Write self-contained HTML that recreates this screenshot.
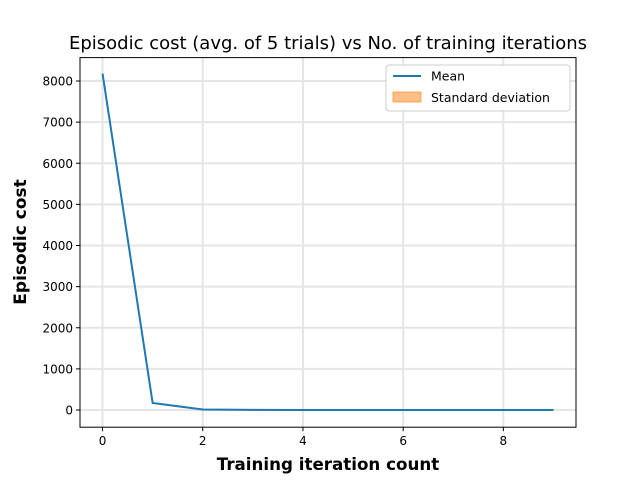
<!DOCTYPE html>
<html><head><meta charset="utf-8"><style>
body{margin:0;background:#fff;}
svg{display:block;font-family:"DejaVu Sans","Liberation Sans",sans-serif;}
</style></head><body>
<svg id="chart" width="640" height="480">
<rect width="640" height="480" fill="#fff"/>
<text x="328" y="49" font-size="18" text-anchor="middle">Episodic cost (avg. of 5 trials) vs No. of training iterations</text>
<g id="grid"></g><g id="series"></g><g id="axes"></g>
<text x="328" y="470" font-size="16.7" font-weight="bold" text-anchor="middle">Training iteration count</text>
<text transform="translate(26,242) rotate(-90)" font-size="17" font-weight="bold" text-anchor="middle">Episodic cost</text>
<g>
<rect x="386" y="65" width="184" height="46" rx="3" fill="#fff" stroke="#ccc"/>
<line x1="393" y1="76" x2="421" y2="76" stroke="#1f77b4" stroke-width="2"/>
<text x="431" y="80.5" font-size="12.5">Mean</text>
<rect x="393" y="92" width="28" height="10" fill="#ff7f0e" fill-opacity="0.5" stroke="#ff7f0e" stroke-opacity="0.6"/>
<text x="431" y="102" font-size="12.5">Standard deviation</text>
</g>
</svg>
<script>
const iterations=[0,1,2,3,4,5,6,7,8,9];
const meanCost=[8180,170,12,2,1,0,0,0,0,0];
const stdCost=[0,0,0,0,0,0,0,0,0,0];
const xTicks=[0,2,4,6,8];
const yTicks=[0,1000,2000,3000,4000,5000,6000,7000,8000];
const L=80,R=576,T=57.6,B=427.2;
const xmin=-0.45,xmax=9.45,ymin=-418,ymax=8569;
const sx=v=>L+(v-xmin)/(xmax-xmin)*(R-L);
const sy=v=>B-(v-ymin)/(ymax-ymin)*(B-T);
const NS='http://www.w3.org/2000/svg';
function mk(tag,attrs,parent){const e=document.createElementNS(NS,tag);for(const k in attrs)e.setAttribute(k,attrs[k]);parent.appendChild(e);return e;}
const grid=document.getElementById('grid'),ser=document.getElementById('series'),ax=document.getElementById('axes');
xTicks.forEach(t=>{
 const g=mk('line',{x1:sx(t),x2:sx(t),y1:T,y2:B,stroke:'#e5e5e5','stroke-width':2},grid);
 
 
 const tk=mk('line',{x1:sx(t),x2:sx(t),y1:B,y2:B+4,stroke:'#000'},ax);
 
 
 const tx=mk('text',{x:sx(t),y:B+18,'font-size':12,'text-anchor':'middle'},ax);
 tx.textContent=t;
 
 
});
yTicks.forEach(t=>{
 const g=mk('line',{x1:L,x2:R,y1:sy(t),y2:sy(t),stroke:'#e5e5e5','stroke-width':2},grid);
 
 
 const tk=mk('line',{x1:L-4,x2:L,y1:sy(t),y2:sy(t),stroke:'#000'},ax);
 
 
 const tx=mk('text',{x:L-7,y:sy(t)+4.5,'font-size':12,'text-anchor':'end'},ax);
 tx.textContent=t;
 
 
});
const up=iterations.map((x,i)=>sx(x)+','+sy(meanCost[i]+stdCost[i]));
const dn=iterations.map((x,i)=>sx(x)+','+sy(meanCost[i]-stdCost[i])).reverse();
const band=mk('polygon',{points:up.concat(dn).join(' '),fill:'#ff7f0e','fill-opacity':0.5},ser);


const line=mk('polyline',{points:iterations.map((x,i)=>sx(x)+','+sy(meanCost[i])).join(' '),fill:'none',stroke:'#1f77b4','stroke-width':2},ser);


const frame=mk('rect',{x:L,y:T,width:R-L,height:B-T,fill:'none',stroke:'#000','stroke-width':1},ax);


</script>
</body></html>
